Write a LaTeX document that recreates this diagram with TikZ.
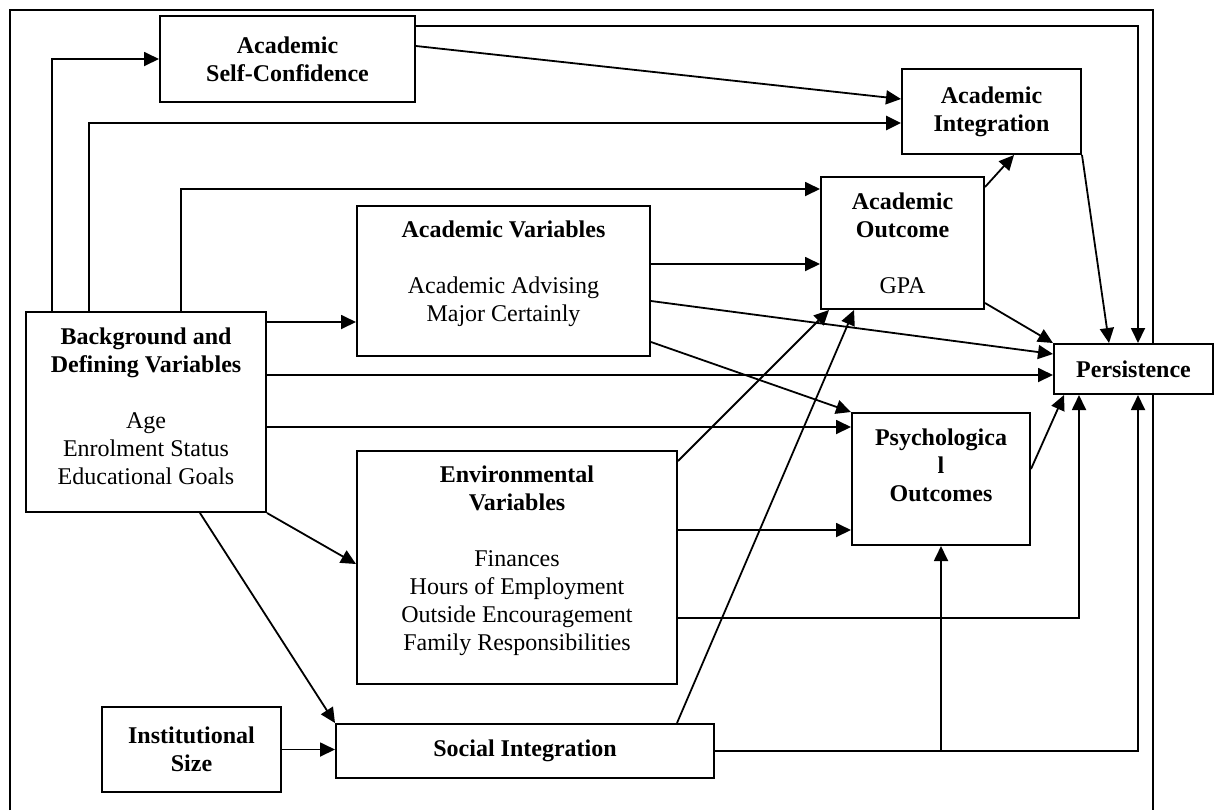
\documentclass[tikz,border=0pt]{standalone}
\usepackage{fontspec}
\setmainfont{Liberation Serif}
\usetikzlibrary{arrows.meta,calc}

\begin{document}
\begin{tikzpicture}[
  x=0.5pt, y=-0.5pt,
  varbox/.style={draw, line width=1pt, fill=white, align=center, inner sep=2pt, font=\fontsize{12}{14}\selectfont},
  flow/.style={-{Triangle[length=7.5pt,width=7pt]}, line width=0.9pt},
  railflow/.style={flow, line width=1.4pt},
  outline/.style={line width=1pt}
]
\useasboundingbox (0,0) rectangle (1220,810);
% open frame round the model
\draw[outline] (10,810) -- (10,10) -- (1153,10) -- (1153,810);

\node[varbox, minimum width=127.5pt, minimum height=43pt] (sc) at (287.5,59) {\textbf{Academic}\\\textbf{Self-Confidence}};
\node[varbox, minimum width=89.5pt, minimum height=42.5pt] (ai) at (991.5,111.5) {\textbf{Academic}\\\textbf{Integration}};
\node[varbox, minimum width=81.5pt, minimum height=66pt] (ao) at (902.5,243) {\textbf{Academic}\\\textbf{Outcome}\\[14pt]GPA};
\node[varbox, minimum width=146.5pt, minimum height=75pt] (av) at (503.5,281) {\textbf{Academic Variables}\\[14pt]Academic Advising\\Major Certainly\\[-4pt]\mbox{}};
\node[varbox, minimum width=120pt, minimum height=100pt] (bg) at (146,412) {\textbf{Background and}\\\textbf{Defining Variables}\\[14pt]Age\\Enrolment Status\\Educational Goals\\[-8pt]\mbox{}};
\node[varbox, minimum width=79.5pt, minimum height=25pt] (pe) at (1133.5,369) {\textbf{Persistence}};
\node[varbox, minimum width=89pt, minimum height=66pt] (ps) at (941,479) {\textbf{Psychologica}\\\textbf{l}\\\textbf{Outcomes}\\\mbox{}};
\node[varbox, minimum width=160pt, minimum height=116.5pt] (ev) at (517,567.5) {\textbf{Environmental}\\\textbf{Variables}\\[14pt]Finances\\Hours of Employment\\Outside Encouragement\\Family Responsibilities\\[-4.5pt]\mbox{}};
\node[varbox, minimum width=89.5pt, minimum height=42.5pt] (is) at (191.5,749.5) {\textbf{Institutional}\\\textbf{Size}};
\node[varbox, minimum width=189pt, minimum height=27pt] (si) at (525,751) {\textbf{Social Integration}};

% rails out of the background box
\draw[flow] ($(bg.north west)+(27,0)$) |- (sc.west);
\draw[railflow] ($(bg.north west)+(64,0)$) |- ($(ai.west)+(0,11.5)$);
\draw[flow] ($(bg.north west)+(156,0)$) |- ($(ao.north west)+(0,13)$);
\draw[flow] ($(bg.north east)+(0,11)$) -- ($(av.north west)+(0,117)$);
\draw[flow] ($(bg.north east)+(0,64)$) -- ($(pe.north west)+(0,32)$);
\draw[flow] ($(bg.north east)+(0,116)$) -- ($(ps.north west)+(0,15)$);
\draw[flow] (bg.south east) -- ($(ev.north west)+(0,114)$);
\draw[flow] ($(bg.south west)+(175,0)$) -- (si.north west);

% self-confidence and integration
\draw[flow] ($(sc.north east)+(0,11)$) -| ($(pe.north west)+(85,0)$);
\draw[flow] ($(sc.north east)+(0,31)$) -- ($(ai.north west)+(0,31)$);
\draw[flow] ($(ao.north east)+(0,11)$) -- ($(ai.south west)+(113,0)$);
\draw[flow] (ai.south east) -- ($(pe.north west)+(56,0)$);

% academic and environmental variables
\draw[flow] ($(av.north east)+(0,59)$) -- ($(ao.north west)+(0,88)$);
\draw[flow] ($(av.north east)+(0,96)$) -- ($(pe.north west)+(0,11)$);
\draw[flow] ($(av.north east)+(0,137)$) -- (ps.north west);
\draw[flow] ($(ao.south east)+(0,-7)$) -- (pe.north west);
\draw[flow] ($(ps.north east)+(0,57)$) -- ($(pe.south west)+(11,0)$);
\draw[flow] ($(ev.north east)+(0,11)$) -- ($(ao.south west)+(9,0)$);
\draw[flow] ($(ev.north east)+(0,80)$) -- ($(ps.north west)+(0,118)$);
\draw[flow] ($(ev.north east)+(0,168)$) -| ($(pe.south west)+(26,0)$);

% social integration
\draw[flow] ($(si.north west)+(342,0)$) -- ($(ao.south west)+(34,0)$);
\draw[flow] (si.east) -| ($(pe.south west)+(85,0)$);
\draw[flow] (ps.south |- si.east) -- (ps.south);
\draw[flow] (is.east) -- (si.west |- is.east);
\end{tikzpicture}
\end{document}
